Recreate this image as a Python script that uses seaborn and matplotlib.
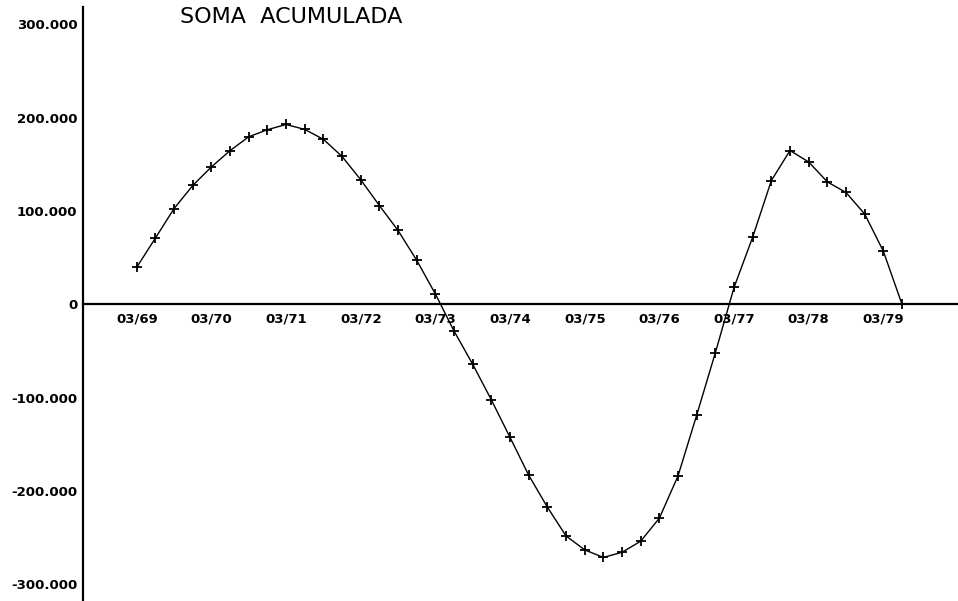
import numpy as np
import pandas as pd
import matplotlib
matplotlib.use("Agg")
import matplotlib.pyplot as plt
import seaborn as sns

# Quarterly cumulative sum, first quarter 03/69 through 06/79
soma_acumulada = [
    39700, 71000, 102600, 127300, 147200, 164700, 179500, 187100,
    192700, 187400, 176800, 158400, 133500, 105800, 79100, 47100,
    11000, -28700, -64300, -102500, -142700, -183200, -217400, -248300,
    -263200, -271300, -265800, -253900, -229200, -183900, -118800, -51900,
    18000, 72000, 132600, 164800, 152500, 131200, 119800, 96800,
    56900, 0,
]
x_tick_labels = ["03/69", "03/70", "03/71", "03/72", "03/73", "03/74",
                 "03/75", "03/76", "03/77", "03/78", "03/79"]
y_tick_values = [300000, 200000, 100000, 0, -100000, -200000, -300000]
y_tick_labels = ["300.000", "200.000", "100.000", "0",
                 "-100.000", "-200.000", "-300.000"]
title = "SOMA  ACUMULADA"

df = pd.DataFrame({"trimestre": np.arange(len(soma_acumulada)),
                   "soma": soma_acumulada})

sns.set_style("white")
plt.rcParams["font.family"] = ["DejaVu Sans"]

W, H = 958, 601
fig = plt.figure(figsize=(W / 100, H / 100), dpi=100)
ax = fig.add_axes([83 / W, 0.0, 1 - 83 / W, 1 - 7 / H])

sns.lineplot(data=df, x="trimestre", y="soma", ax=ax, color="black",
             linewidth=1.0, marker="+", markersize=7, markeredgewidth=1.3,
             markeredgecolor="black")

ax.set_xlim(-2.88, 44.0)
ax.set_ylim(-318000, 318600)

# Axes: vertical spine on the left, horizontal axis through zero
for side in ("top", "right"):
    ax.spines[side].set_visible(False)
ax.spines["bottom"].set_position(("data", 0))
ax.spines["bottom"].set_linewidth(1.6)
ax.spines["left"].set_linewidth(1.6)
ax.spines["bottom"].set_color("black")
ax.spines["left"].set_color("black")

ax.set_xticks(np.arange(0, 41, 4))
ax.set_xticklabels(x_tick_labels)
ax.set_yticks(y_tick_values)
ax.set_yticklabels(y_tick_labels)

ax.tick_params(axis="x", direction="in", length=5, width=1.4, pad=6,
               labelsize=9.5, colors="black")
ax.tick_params(axis="y", direction="out", length=3, width=1.4, pad=1,
               labelsize=9.5, colors="black")
for lbl in ax.get_xticklabels() + ax.get_yticklabels():
    lbl.set_fontweight("bold")

ax.set_xlabel("")
ax.set_ylabel("")
ax.grid(False)

fig.text(180 / W, 1 - 17 / H, title, ha="left", va="center",
         fontsize=16, color="black")

fig.savefig("out.png", dpi=100, facecolor="white")
